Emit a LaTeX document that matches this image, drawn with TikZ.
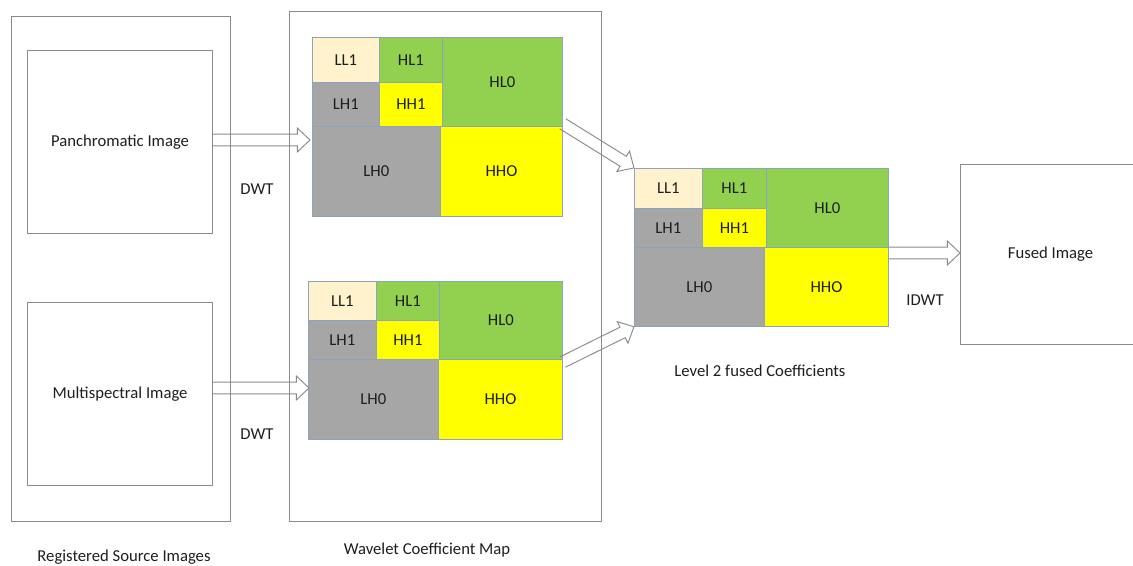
\documentclass[tikz,border=0pt]{standalone}
\usepackage{fontspec}
\setmainfont{Carlito}
\usetikzlibrary{calc}
\definecolor{cream}{HTML}{FFF2CC}
\definecolor{lgreen}{HTML}{92D050}
\definecolor{yel}{HTML}{FFFF00}
\definecolor{lgray}{HTML}{A6A6A6}
\definecolor{cellline}{HTML}{8EA4BC}
\definecolor{boxgray}{HTML}{8A8A8A}
\definecolor{txt}{HTML}{1E1E1E}
\tikzset{
  box/.style={draw=boxgray, line width=0.9pt, inner sep=0pt, text=txt, font=\fontsize{12.5}{14}\selectfont},
  cell/.style={draw=cellline, line width=0.6pt, inner sep=0pt, anchor=north west, text=txt, font=\fontsize{12.5}{14}\selectfont},
  lbl/.style={text=txt, font=\fontsize{12.5}{14}\selectfont, inner sep=0pt},
  blockarrow/.style={draw=boxgray, line width=0.7pt, line join=miter}
}
\newcommand\wcell[7]{\node[cell, fill=#6, minimum width={(#4-#2)*0.75pt}, minimum height={(#5-#3)*0.75pt}] (#1) at (#2,#3) {#7};}
\newcommand\blockarrow[2]{%
  \path let \p1=($(#2)-(#1)$) in \pgfextra{\pgfmathsetmacro\arrlen{veclen(\x1,\y1)}\pgfmathsetmacro\arrang{atan2(\y1,\x1)}\xdef\arrlen{\arrlen}\xdef\arrang{\arrang}};
  \draw[blockarrow, shift={(#1)}, rotate=\arrang] (0pt,-4.4pt) -- ({\arrlen pt-9.5pt},-4.4pt) -- ({\arrlen pt-9.5pt},-9pt) -- ({\arrlen pt},0pt) -- ({\arrlen pt-9.5pt},9pt) -- ({\arrlen pt-9.5pt},4.4pt) -- (0pt,4.4pt);
}
\begin{document}
\begin{tikzpicture}[x=0.75pt, y=-0.75pt]
\useasboundingbox (0,0) rectangle (1133,566);
% outer boxes
\node[box, minimum width={219*0.75pt}, minimum height={505*0.75pt}, anchor=north west] (SRC) at (11,16) {};
\node[box, minimum width={312*0.75pt}, minimum height={510*0.75pt}, anchor=north west] (WCM) at (289,11) {};
\node[box, minimum width={185*0.75pt}, minimum height={183*0.75pt}, anchor=north west] (P) at (27,50) {Panchromatic Image};
\node[box, minimum width={185*0.75pt}, minimum height={183*0.75pt}, anchor=north west] (M) at (27,302) {Multispectral Image};
\node[box, minimum width={180*0.75pt}, minimum height={180*0.75pt}, anchor=north west] (F) at (960,164) {Fused Image};
% grid 1
\wcell{AHL0}{442}{37}{562}{126}{lgreen}{HL0}
\wcell{ALH0}{312}{126}{440}{216}{lgray}{LH0}
\wcell{AHH0}{440}{126}{562}{216}{yel}{HHO}
\wcell{ALL1}{312}{37}{379}{82}{cream}{LL1}
\wcell{AHL1}{379}{37}{442}{82}{lgreen}{HL1}
\wcell{ALH1}{312}{82}{379}{126}{lgray}{LH1}
\wcell{AHH1}{379}{82}{442}{126}{yel}{HH1}
% grid 2
\wcell{BHL0}{439}{281}{562}{359}{lgreen}{HL0}
\wcell{BLH0}{308}{359}{438}{439}{lgray}{LH0}
\wcell{BHH0}{438}{359}{562}{439}{yel}{HHO}
\wcell{BLL1}{308}{281}{376}{320}{cream}{LL1}
\wcell{BHL1}{376}{281}{439}{320}{lgreen}{HL1}
\wcell{BLH1}{308}{320}{376}{359}{lgray}{LH1}
\wcell{BHH1}{376}{320}{439}{359}{yel}{HH1}
% grid 3
\wcell{CHL0}{766}{168}{888}{247}{lgreen}{HL0}
\wcell{CLH0}{634}{247}{764}{326}{lgray}{LH0}
\wcell{CHH0}{764}{247}{888}{326}{yel}{HHO}
\wcell{CLL1}{634}{168}{702}{208}{cream}{LL1}
\wcell{CHL1}{702}{168}{766}{208}{lgreen}{HL1}
\wcell{CLH1}{634}{208}{702}{247}{lgray}{LH1}
\wcell{CHH1}{702}{208}{766}{247}{yel}{HH1}
% arrow end points
\coordinate (a1s) at (212,140);
\coordinate (a1e) at (310,140);
\coordinate (a2s) at (212,388);
\coordinate (a2e) at (309,388);
\coordinate (a3s) at ($(AHL0.south east)+(0,-3)$);
\coordinate (a4s) at ($(BHH0.north east)+(0,3)$);
\coordinate (a5s) at (CHH0.north east |- 0,253);
\coordinate (a5e) at (F.west |- 0,253);
\blockarrow{a1s}{a1e}
\blockarrow{a2s}{a2e}
\blockarrow{a3s}{CLL1.north west}
\blockarrow{a4s}{CLH0.south west}
\blockarrow{a5s}{a5e}
% labels
\node[lbl] (dwt1) at (257,189) {DWT};
\node[lbl] (dwt2) at (257,434) {DWT};
\node[lbl] (idwt) at (925,300) {IDWT};
\node[lbl] (lvl) at (760,371) {Level 2 fused Coefficients};
\node[lbl] (rsi) at (124,557) {Registered Source Images};
\node[lbl] (wcm) at (427,550) {Wavelet Coefficient Map};
\end{tikzpicture}
\end{document}
